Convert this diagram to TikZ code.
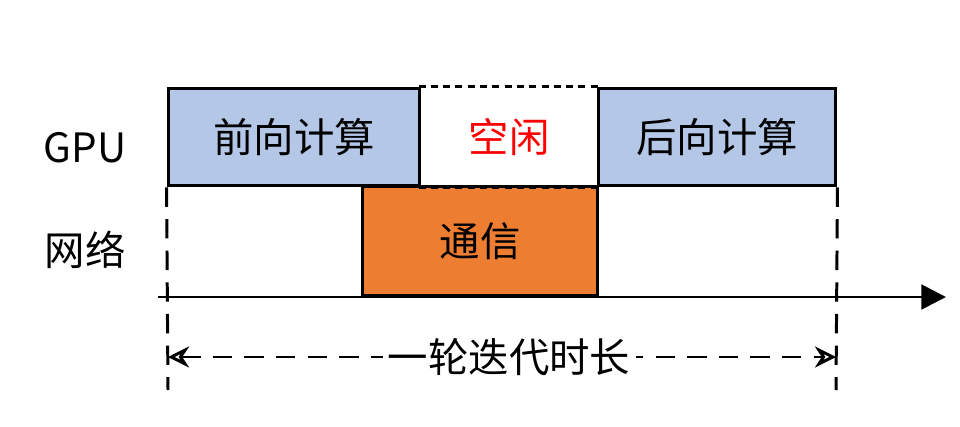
\documentclass[tikz,border=0pt]{standalone}
\usepackage{fontspec}
\setmainfont{Noto Sans CJK SC}
\usetikzlibrary{arrows.meta,positioning}
\begin{document}
\begin{tikzpicture}[
    x=0.02cm, y=-0.02cm,
    task/.style={
        rectangle,
        draw=black,
        line width=1.7pt,
        minimum height=1.96cm,
        inner sep=0pt,
        font=\fontsize{23}{27}\selectfont
    },
    label/.style={font=\fontsize{23}{27}\selectfont},
    guide/.style={line width=1.7pt, dash pattern=on 11pt off 7pt}
]
\useasboundingbox (0,0) rectangle (960,426);

\node[task, fill={rgb,255:red,180;green,199;blue,231}, minimum width=5.04cm] (fwd) at (294,137) {前向计算};
\node[task, draw=none, minimum width=3.56cm, text=red] (idle) at (509,137) {空闲};
\node[task, fill={rgb,255:red,180;green,199;blue,231}, minimum width=4.76cm] (bwd) at (717,137) {后向计算};
\node[task, fill={rgb,255:red,237;green,125;blue,49}, minimum width=4.72cm, minimum height=2.18cm] (comm) at (480,241) {通信};

\draw[line width=1.7pt, dash pattern=on 4pt off 3pt] (idle.north west) -- (idle.north east);
\draw[line width=1.7pt, dash pattern=on 4pt off 3pt] (idle.south west) -- (idle.south east);

\node[label] (gpu) at (85,148) {GPU};
\node[label] (net) at (85,250) {网络};

\coordinate (axs) at (158,297);
\coordinate (axe) at (946,297);
\draw[line width=1.7pt, -{Triangle[length=14pt,width=14pt]}] (axs) -- (axe);

\coordinate (ls) at (168,390);
\coordinate (rs) at (836,390);
\draw[guide] (fwd.south west) -- (ls);
\draw[guide] (bwd.south east) -- (rs);

\coordinate (da) at (168,357);
\coordinate (db) at (836,357);
\draw[guide, {Stealth[open,length=12pt,width=12pt]}-{Stealth[open,length=12pt,width=12pt]}] (da) -- (db);
\node[label, fill=white, inner sep=3pt] (span) at (509,357) {一轮迭代时长};
\end{tikzpicture}
\end{document}
